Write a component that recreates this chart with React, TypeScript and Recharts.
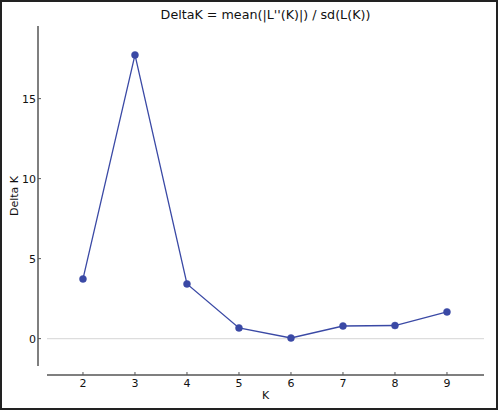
import React from 'react';
import {
  LineChart,
  Line,
  XAxis,
  YAxis,
  ReferenceLine,
} from 'recharts';

// Evanno DeltaK per K
const kValues = [2, 3, 4, 5, 6, 7, 8, 9];
const deltaK = [3.73, 17.73, 3.42, 0.67, 0.04, 0.79, 0.82, 1.67];
const xTicks = [2, 3, 4, 5, 6, 7, 8, 9];
const yTicks = [0, 5, 10, 15];

const FONT = '"DejaVu Sans", sans-serif';
const LINE = '#3a49a5';
const AXIS = '#555555';

const chartData = kValues.map((k, i) => ({ k, deltaK: deltaK[i] }));

export default function App() {
  return (
    <div style={{ position: 'absolute', left: 0, top: 0, width: 498, height: 410, background: '#fff', fontFamily: FONT }}>
      <div
        style={{
          position: 'absolute',
          left: 47,
          width: 437,
          top: 9,
          fontSize: 12.7,
          lineHeight: '12.7px',
          textAlign: 'center',
          color: '#111',
          whiteSpace: 'nowrap',
        }}
      >
        DeltaK = mean(|L''(K)|) / sd(L(K))
      </div>

      <LineChart
        width={498}
        height={410}
        data={chartData}
        margin={{ top: 26, right: 14, left: 0, bottom: 0 }}
        style={{ position: 'absolute', left: 0, top: 0 }}
      >
        <XAxis
          dataKey="k"
          type="number"
          domain={[1.308, 9.712]}
          ticks={xTicks}
          allowDataOverflow
          height={44}
          tickSize={-3}
          tickMargin={16}
          axisLine={{ stroke: AXIS, strokeWidth: 1.5, transform: 'translate(0,9)' }}
          tickLine={{ stroke: AXIS, transform: 'translate(0,9)' }}
          tick={{ fill: '#111', fontSize: 11, fontFamily: FONT }}
          label={{ value: 'K', position: 'insideBottom', offset: 11, fill: '#111', fontSize: 11, fontFamily: FONT }}
        />
        <YAxis
          type="number"
          domain={[-1.71, 19.54]}
          ticks={yTicks}
          allowDataOverflow
          width={47}
          tickSize={-3}
          tickMargin={14}
          axisLine={{ stroke: AXIS, strokeWidth: 1.5, transform: 'translate(-9,0)' }}
          tickLine={{ stroke: AXIS, transform: 'translate(-9,0)' }}
          tick={{ fill: '#111', fontSize: 11, fontFamily: FONT }}
          label={{
            value: 'Delta K',
            angle: -90,
            position: 'insideLeft',
            offset: 14,
            fill: '#111',
            fontSize: 11,
            fontFamily: FONT,
            style: { textAnchor: 'middle' },
          }}
        />
        <ReferenceLine y={0} stroke="#dddddd" strokeWidth={1.2} />
        <Line
          dataKey="deltaK"
          stroke={LINE}
          strokeWidth={1.3}
          dot={{ r: 3.5, fill: LINE, stroke: LINE, strokeWidth: 0.5 }}
          isAnimationActive={false}
        />
      </LineChart>

      <div
        style={{
          position: 'absolute',
          left: 0,
          top: 0,
          width: 498,
          height: 410,
          boxSizing: 'border-box',
          border: '2px solid #222',
          pointerEvents: 'none',
        }}
      />
    </div>
  );
}
